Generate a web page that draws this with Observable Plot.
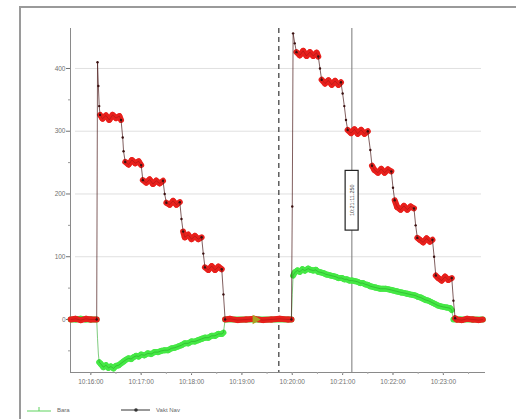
<!DOCTYPE html>
<html>
<head>
<meta charset="utf-8">
<script src="https://cdn.jsdelivr.net/npm/d3@7"></script>
<script src="https://cdn.jsdelivr.net/npm/@observablehq/plot@0.6"></script>
<style>
  html, body { margin: 0; padding: 0; background: #fff; }
  #wrap { position: relative; width: 516px; height: 419px; overflow: hidden; font-family: "Liberation Sans", Arial, sans-serif; }
  #frame { position: absolute; left: 19px; top: 6px; right: -5px; bottom: -5px; border-left: 2px solid #9a9a9a; border-top: 2px solid #9a9a9a; }
  #chart { position: absolute; left: 0; top: 0; }
  #legend { position: absolute; left: 0; top: 402px; width: 516px; height: 17px; font-size: 6px; color: #666; }
  #legend .item { position: absolute; top: 3px; display: flex; align-items: center; }
  #legend .item span { margin-left: 6px; }
</style>
</head>
<body>
<div id="wrap">
  <div id="frame"></div>
  <div id="chart"></div>
  <div id="legend"></div>
</div>
<script>
// ---- data (seconds after 10:16:00, value) ----
const startTime = "10:16:00";
const seriesNames = ["Bara", "Vakt Nav"];

const redSec = [-24,-18,-12,-6,0,7,
  8,9,10,11,
  14,18,22,26,30,34,36,
  38,39,
  41,45,49,53,57,60,
  62,66,70,74,78,82,86,
  88,90,94,98,102,106,
  108,110,112,116,120,124,128,132,
  134,136,140,144,148,152,156,
  158,160,166,175,185,195,205,215,225,235,239,
  240,241,243,245,249,253,257,261,265,269,271,
  273,275,279,283,287,291,295,298,
  300,302,304,306,310,314,318,322,326,330,
  333,335,338,342,346,350,354,358,
  360,362,365,369,373,377,381,385,
  387,389,392,396,400,404,407,
  409,411,414,418,422,426,430,
  432,434,436,442,448,455,462,467];
const redVal = [0,1,-1,1,0,0,
  410,372,340,326,
  320,325,318,326,321,324,318,
  290,268,
  251,247,254,249,252,246,
  222,218,223,216,221,217,221,
  200,186,183,189,183,187,
  160,140,131,135,128,133,128,131,
  105,83,79,85,79,84,80,
  40,0,1,-1,0,1,-1,0,1,0,0,
  180,456,440,426,421,428,420,426,420,425,419,
  400,382,376,381,374,380,374,378,
  360,340,318,302,297,303,296,302,296,300,
  270,245,238,234,240,234,239,236,
  210,190,179,175,181,175,180,177,
  150,130,127,123,129,124,127,
  100,70,66,62,68,63,66,
  30,2,0,-1,1,0,-1,0];

const greenSec = [-24,-18,-12,-6,0,7,
  8,9,10,12,15,18,21,24,27,30,33,36,39,42,45,48,51,54,57,60,
  64,68,72,76,80,84,88,92,96,100,104,108,112,116,120,124,128,132,
  136,140,144,148,152,156,158,
  160,200,239,
  240,241,243,246,249,252,255,259,262,265,268,271,274,277,280,283,286,289,
  292,295,299,302,305,308,311,315,318,321,324,327,330,333,336,339,342,345,
  348,351,355,358,361,364,367,370,374,377,380,384,387,390,393,396,399,402,
  405,408,411,414,417,420,424,428,430,
  432,440,455,467];
const greenVal = [0,0,1,0,0,0,
  -30,-55,-68,-71,-76,-73,-77,-75,-78,-74,-73,-70,-67,-64,-62,-63,-60,-58,-59,-56,
  -57,-54,-55,-52,-52,-50,-49,-49,-46,-45,-43,-41,-38,-38,-35,-35,-33,-31,
  -29,-29,-26,-26,-23,-23,-21,
  0,0,0,
  40,70,75,78,76,80,78,81,79,78,79,76,75,74,72,71,70,69,
  68,66,66,64,64,62,62,61,60,58,58,56,55,53,52,51,50,49,
  49,49,48,47,46,45,44,43,42,41,40,39,38,36,35,33,31,30,
  28,26,24,22,21,20,19,18,15,
  0,0,0,0];

const markerSec = [196];       // small event marker on the zero line
const markerVal = [0];
const dashedSec = [224];       // dashed cursor
const solidSec = [311];        // solid cursor
const cursorLabel = ["10:21:11.250"];
const cursorLabelVal = [190];

const yTicks = [0, 100, 200, 300, 400];
const yMinor = [-50, 50, 150, 250, 350];
const xTickLabels = ["10:16:00","10:17:00","10:18:00","10:19:00","10:20:00","10:21:00","10:22:00","10:23:00"];
const xDomainSec = [-24.2, 470.2];
const yDomain = [-84.5, 463.7];

// ---- build ----
const parseT = d3.utcParse("%H:%M:%S");
const base = parseT(startTime).getTime();
const T = s => new Date(base + s * 1000);

const red = redSec.map((s, i) => ({t: T(s), v: redVal[i]}));
const green = greenSec.map((s, i) => ({t: T(s), v: greenVal[i]}));
const isFlat = (a, b) => Math.abs(b.v - a.v) <= 12;
function segs(d, flat) {
  const out = [];
  for (let i = 0; i < d.length - 1; i++) {
    if (isFlat(d[i], d[i + 1]) === flat) out.push({x1: d[i].t, y1: d[i].v, x2: d[i + 1].t, y2: d[i + 1].v});
  }
  return out;
}
function transitionPoints(d) {
  return d.filter((p, i) => (i > 0 && !isFlat(d[i - 1], p)) || (i < d.length - 1 && !isFlat(p, d[i + 1])));
}
const xMajor = xTickLabels.map(parseT);
const xMinor = d3.utcSecond.every(30).range(T(xDomainSec[0]), T(xDomainSec[1]));
const markers = markerSec.map((s, i) => ({t: T(s), v: markerVal[i]}));

const chart = Plot.plot({
  width: 516,
  height: 400,
  marginLeft: 70,
  marginRight: 31,
  marginTop: 28,
  marginBottom: 28,
  style: {fontFamily: "Liberation Sans, Arial, sans-serif", background: "transparent"},
  x: {type: "utc", domain: xDomainSec.map(T)},
  y: {domain: yDomain},
  marks: [
    Plot.gridY(yTicks.filter(d => d > 0), {stroke: "#d8d8d8", strokeOpacity: 0.8, insetLeft: 5, insetRight: 4}),
    Plot.ruleX([T(xDomainSec[0])], {stroke: "#8a8a8a", strokeWidth: 1}),
    Plot.ruleY([yDomain[0]], {stroke: "#8a8a8a", strokeWidth: 1}),
    Plot.axisY({ticks: yTicks, tickSize: 4, tickPadding: 1, fontSize: 6.5, color: "#707070"}),
    Plot.axisY({ticks: yMinor, tickSize: 2, tickFormat: () => "", color: "#999"}),
    Plot.axisX({ticks: xMajor, tickSize: 3, tickPadding: 4, tickFormat: d3.utcFormat("%H:%M:%S"), fontSize: 6.5, color: "#707070"}),
    Plot.axisX({ticks: xMinor, tickSize: 2, tickFormat: () => "", color: "#aaa"}),
    Plot.ruleX(dashedSec.map(T), {stroke: "#222", strokeWidth: 1.1, strokeDasharray: "5,4"}),
    Plot.ruleX(solidSec.map(T), {stroke: "#777", strokeWidth: 1}),
    // green series
    Plot.link(segs(green, true), {x1: "x1", y1: "y1", x2: "x2", y2: "y2", stroke: "#45e845", strokeWidth: 6, strokeLinecap: "round"}),
    Plot.line(green, {x: "t", y: "v", stroke: "#28a828", strokeWidth: 0.6}),
    // red series
    Plot.link(segs(red, true), {x1: "x1", y1: "y1", x2: "x2", y2: "y2", stroke: "#e8201c", strokeWidth: 6, strokeLinecap: "round"}),
    Plot.link(segs(red, true), {x1: "x1", y1: "y1", x2: "x2", y2: "y2", stroke: "#7a1010", strokeWidth: 0.5, strokeOpacity: 0.7}),
    Plot.link(segs(red, false), {x1: "x1", y1: "y1", x2: "x2", y2: "y2", stroke: "#4a1a1a", strokeWidth: 0.7}),
    Plot.dot(transitionPoints(red), {x: "t", y: "v", r: 1.2, fill: "#3a1010"}),
    Plot.dot(markers, {x: "t", y: "v", symbol: "triangle", rotate: 90, r: 3.5, fill: "#a8a020"}),
    Plot.text(cursorLabel, {x: T(solidSec[0]), y: cursorLabelVal[0], text: d => d, rotate: -90, fontSize: 5.5, fill: "#444", dx: 0})
  ]
});
document.getElementById("chart").appendChild(chart);

// box behind the rotated cursor label
chart.querySelectorAll("text").forEach(t => {
  if (t.textContent === cursorLabel[0]) {
    const bb = t.getBBox();
    const r = document.createElementNS("http://www.w3.org/2000/svg", "rect");
    const padX = 14, padY = 3.5;
    r.setAttribute("x", bb.x - padX);
    r.setAttribute("y", bb.y - padY);
    r.setAttribute("width", bb.width + 2 * padX);
    r.setAttribute("height", bb.height + 2 * padY);
    r.setAttribute("fill", "#fff");
    r.setAttribute("stroke", "#222");
    r.setAttribute("stroke-width", "1.2");
    if (t.getAttribute("transform")) r.setAttribute("transform", t.getAttribute("transform"));
    t.parentNode.insertBefore(r, t);
  }
});

// legend
const legend = document.getElementById("legend");
legend.innerHTML = `
  <div class="item" style="left:27px">
    <svg width="24" height="9"><line x1="0" y1="6" x2="24" y2="6" stroke="#5fd35f" stroke-width="1"/><line x1="12" y1="2" x2="12" y2="6" stroke="#5fd35f"/></svg>
    <span>${seriesNames[0]}</span>
  </div>
  <div class="item" style="left:121px">
    <svg width="29" height="9"><line x1="0" y1="5" x2="29" y2="5" stroke="#333" stroke-width="1"/><circle cx="15" cy="5" r="1.8" fill="#333"/></svg>
    <span>${seriesNames[1]}</span>
  </div>`;
</script>
</body>
</html>
